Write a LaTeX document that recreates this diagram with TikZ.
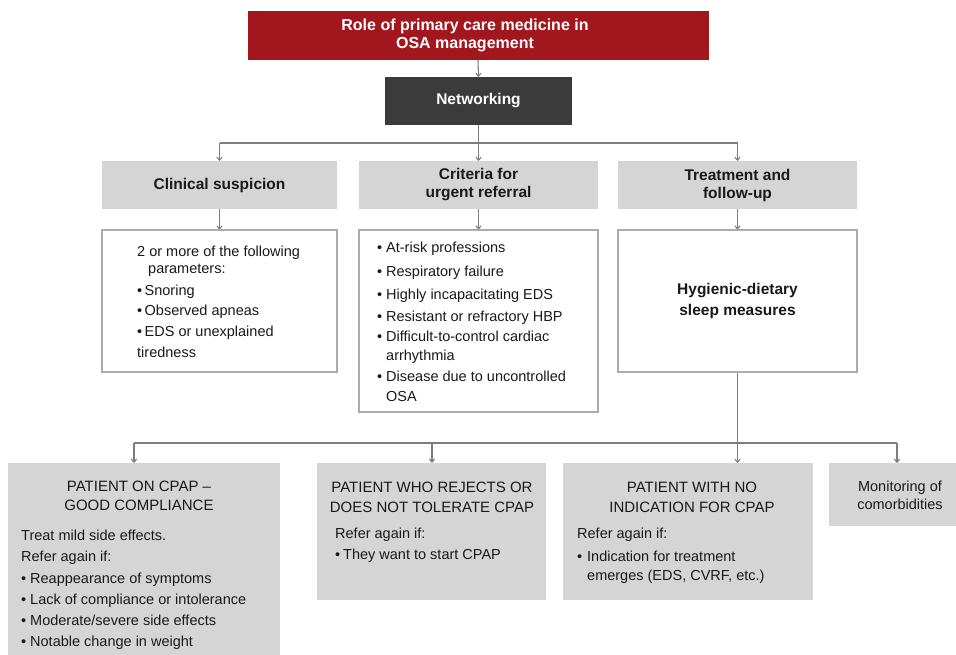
\documentclass[tikz,border=0pt]{standalone}
\usepackage{fontspec}
\setmainfont{Liberation Sans}
\usetikzlibrary{arrows.meta}
\definecolor{redbox}{RGB}{162,22,30}
\definecolor{darkbox}{RGB}{59,59,59}
\definecolor{graybox}{RGB}{213,213,213}
\definecolor{lineg}{RGB}{125,125,125}
\definecolor{borderg}{RGB}{172,172,172}
\definecolor{txt}{RGB}{25,25,25}
\newcommand{\bl}{\makebox[9pt][l]{•}}
\tikzset{
  headbox/.style={rectangle,inner sep=0pt,align=center,font=\fontsize{15.5}{18}\selectfont\bfseries},
  redhead/.style={headbox,fill=redbox,text=white},
  darkhead/.style={headbox,fill=darkbox,text=white},
  grayhead/.style={headbox,fill=graybox,text=txt},
  whitebox/.style={rectangle,inner sep=0pt,draw=borderg,line width=1.2pt,fill=white,align=center,text=txt,font=\fontsize{15.5}{21}\selectfont\bfseries},
  graybody/.style={rectangle,inner sep=0pt,fill=graybox},
  bodytext/.style={inner sep=0pt,align=left,text=txt,font=\fontsize{14.5}{20.5}\selectfont},
  capstext/.style={inner sep=0pt,align=center,text=txt,font=\fontsize{15}{19}\selectfont},
  conn/.style={draw=lineg,line width=1.1pt},
  arr/.style={conn,-{To[length=4pt,width=6pt]}}
}
\begin{document}
\begin{tikzpicture}[x=1pt,y=-1pt]
\useasboundingbox (0,0) rectangle (956,655);
\clip (0,0) rectangle (956,655);
\fill[white] (0,0) rectangle (956,655);

% top
\node[redhead,minimum width=461pt,minimum height=49pt,font=\fontsize{16}{18}\selectfont\bfseries] (role) at (478,35.5) {\hspace*{-26pt}Role of primary care medicine in\\\hspace*{-26pt}OSA management};
\node[darkhead,minimum width=187pt,minimum height=48pt] (net) at (478.5,101) {Networking};

% second row
\node[grayhead,minimum width=235pt,minimum height=48pt] (cs) at (219.5,185) {Clinical suspicion};
\node[grayhead,minimum width=239pt,minimum height=48pt] (cu) at (478.5,185) {Criteria for\\urgent referral};
\node[grayhead,minimum width=239pt,minimum height=48pt] (tf) at (737.5,185) {Treatment and\\follow-up};

% white boxes
\node[whitebox,minimum width=235pt,minimum height=142pt] (w1) at (219.5,301) {};
\node[whitebox,minimum width=239pt,minimum height=182pt] (w2) at (478.5,321) {};
\node[whitebox,minimum width=239pt,minimum height=142pt] (hy) at (737.5,301) {Hygienic-dietary\\sleep measures};

\node[bodytext,anchor=north west] (w1t) at (137,245.5) {2 or more of the following\\[-3.5pt]
\hspace*{11pt}parameters:\\[1.5pt]
•\,Snoring\\
•\,Observed apneas\\
•\,EDS or unexplained\\[0.5pt]
tiredness};

\node[bodytext,anchor=north west] (w2t) at (377,241.5) {\bl At-risk professions\\[3.5pt]
\bl Respiratory failure\\[2.5pt]
\bl Highly incapacitating EDS\\[1.5pt]
\bl Resistant or refractory HBP\\[-0.5pt]
\bl Difficult-to-control cardiac\\[-1.5pt]
\hspace*{9pt}arrhythmia\\[0.5pt]
\bl Disease due to uncontrolled\\[-0.5pt]
\hspace*{9pt}OSA};

% bottom boxes
\node[graybody,minimum width=272pt,minimum height=200pt] (b1) at (144,563) {};
\node[graybody,minimum width=229pt,minimum height=137pt] (b2) at (431.5,531.5) {};
\node[graybody,minimum width=250pt,minimum height=137pt] (b3) at (688,531.5) {};
\node[graybody,minimum width=136pt,minimum height=63pt] (b4) at (897,494.5) {};

\node[capstext] (b1h) at (139,496) {PATIENT ON CPAP –\\GOOD COMPLIANCE};
\node[bodytext,anchor=north west,font=\fontsize{14.5}{21}\selectfont] (b1t) at (21,529.5) {Treat mild side effects.\\
Refer again if:\\[1pt]
\bl Reappearance of symptoms\\
\bl Lack of compliance or intolerance\\
\bl Moderate/severe side effects\\
\bl Notable change in weight};

\node[capstext,font=\fontsize{15}{20}\selectfont] (b2h) at (432,497) {PATIENT WHO REJECTS OR\\DOES NOT TOLERATE CPAP};
\node[bodytext,anchor=north west,font=\fontsize{14.5}{21}\selectfont] (b2t) at (335,527.5) {Refer again if:\\
\makebox[8pt][l]{•}They want to start CPAP};

\node[capstext,font=\fontsize{15}{20}\selectfont] (b3h) at (692,497) {PATIENT WITH NO\\INDICATION FOR CPAP};
\node[bodytext,anchor=north west,font=\fontsize{14.5}{21}\selectfont] (b3t) at (577,527.5) {Refer again if:\\[2pt]
\makebox[10pt][l]{•}Indication for treatment\\[-2pt]
\hspace*{10pt}emerges (EDS, CVRF, etc.)};

\node[capstext,font=\fontsize{14.5}{18}\selectfont] (b4t) at (900,495) {Monitoring of\\comorbidities};

% connectors
\coordinate (bus1) at (478.5,143);
\coordinate (bus2) at (737.5,443);
\coordinate (k1) at (134,443);
\coordinate (k2) at (432,443);
\coordinate (k4) at (897,443);

\draw[arr] (role.south) -- (net.north);
\draw[conn] (net.south) -- (bus1);
\draw[conn] (cs.north |- bus1) -- (tf.north |- bus1);
\draw[arr] (cs.north |- bus1) -- (cs.north);
\draw[arr] (bus1) -- (cu.north);
\draw[arr] (tf.north |- bus1) -- (tf.north);
\draw[arr] (cs.south) -- (w1.north);
\draw[arr] (cu.south) -- (w2.north);
\draw[arr] (tf.south) -- (hy.north);

\draw[conn] (hy.south) -- (bus2);
\draw[conn] (k1) -- (k4);
\draw[arr] (k1) -- (k1 |- b1.north);
\draw[arr] (k2) -- (k2 |- b2.north);
\draw[arr] (bus2) -- (bus2 |- b3.north);
\draw[arr] (k4) -- (k4 |- b4.north);
\end{tikzpicture}
\end{document}
